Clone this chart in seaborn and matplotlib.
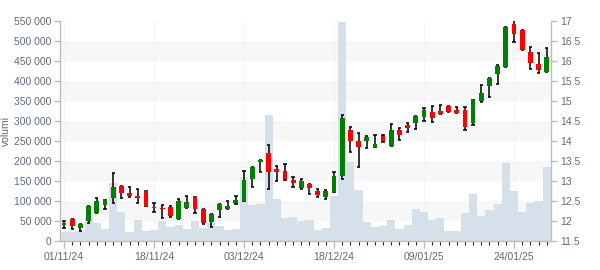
import numpy as np
import pandas as pd
import matplotlib
matplotlib.use("Agg")
import matplotlib.pyplot as plt
from matplotlib.ticker import FuncFormatter, FixedLocator
import seaborn as sns

# ---- data ----
tick_pos = [0, 11, 22, 33, 44, 55]
tick_labels = ["01/11/24", "18/11/24", "03/12/24", "18/12/24", "09/01/25", "24/01/25"]

opens = [11.91, 12.05, 11.83, 12.00, 12.21, 12.40, 12.58, 12.87, 12.71, 12.62,
         12.75, 12.36, 12.33, 12.35, 12.04, 12.33, 12.60, 12.30, 11.98, 12.27,
         12.31, 12.46, 12.51, 13.06, 13.48, 13.70, 13.29, 13.25, 13.02, 12.83,
         12.92, 12.74, 12.61, 12.73, 13.13, 14.28, 14.00, 14.00, 13.86, 14.12,
         13.88, 14.28, 14.40, 14.46, 14.61, 14.72, 14.75, 14.88, 14.78, 14.77,
         14.46, 15.00, 15.38, 15.68, 15.86, 16.92, 16.78, 16.22, 15.92, 15.73]
highs = [12.00, 12.05, 11.92, 12.37, 12.57, 12.52, 13.19, 12.87, 12.84, 12.80,
         12.75, 12.45, 12.40, 12.38, 12.54, 12.63, 12.60, 12.30, 12.18, 12.42,
         12.50, 12.62, 13.25, 13.35, 13.52, 13.90, 13.37, 13.42, 13.11, 13.04,
         12.92, 12.80, 12.78, 13.22, 14.64, 14.34, 14.19, 14.13, 14.15, 14.14,
         14.42, 14.32, 14.45, 14.63, 14.82, 14.88, 14.89, 14.88, 14.84, 14.84,
         15.02, 15.39, 15.58, 15.90, 16.85, 17.02, 16.78, 16.35, 16.20, 16.32]
lows = [11.82, 11.79, 11.76, 11.94, 12.21, 12.29, 12.44, 12.57, 12.61, 12.44,
        12.38, 12.23, 12.07, 12.11, 12.04, 12.33, 12.19, 11.92, 11.86, 12.11,
        12.31, 12.42, 12.51, 12.84, 13.23, 12.79, 13.01, 13.03, 12.86, 12.79,
        12.68, 12.61, 12.54, 12.72, 13.06, 13.72, 13.36, 13.83, 13.86, 13.97,
        13.88, 14.03, 14.22, 14.29, 14.51, 14.48, 14.67, 14.72, 14.71, 14.28,
        14.41, 14.97, 15.11, 15.43, 15.86, 16.48, 16.28, 15.79, 15.71, 15.72]
closes = [11.94, 11.88, 11.92, 12.37, 12.50, 12.52, 12.85, 12.71, 12.62, 12.58,
          12.38, 12.32, 12.30, 12.12, 12.50, 12.47, 12.29, 11.96, 12.18, 12.42,
          12.37, 12.53, 13.02, 13.35, 13.52, 13.23, 13.23, 13.05, 12.96, 13.00,
          12.83, 12.66, 12.75, 13.12, 14.57, 14.00, 13.86, 14.10, 13.93, 14.00,
          14.28, 14.16, 14.33, 14.63, 14.78, 14.58, 14.68, 14.73, 14.71, 14.35,
          15.02, 15.20, 15.58, 15.88, 16.85, 16.68, 16.28, 15.96, 15.78, 16.09]
volumes = [23000, 23000, 24000, 65000, 46000, 30000, 146000, 73000, 23000, 52000,
           25000, 27000, 51000, 36000, 41000, 31000, 51000, 32000, 44000, 37000,
           27000, 29000, 160000, 91000, 93000, 315000, 106000, 58000, 60000, 51000,
           52000, 27500, 33000, 112000, 547000, 198000, 127000, 47000, 36000, 38000,
           52000, 30000, 40000, 80000, 72000, 52000, 57000, 25000, 25000, 70000,
           117000, 62000, 77000, 92000, 195000, 125000, 72000, 95000, 100000, 185000]

df = pd.DataFrame({"i": np.arange(len(opens)), "open": opens, "high": highs,
                   "low": lows, "close": closes, "volume": volumes})

sns.set_theme(style="white")
plt.rcParams["font.family"] = ["Liberation Sans", "DejaVu Sans"]

TXT = "#5f6b7a"
SPINE = "#bdbdbd"

fig = plt.figure(figsize=(6, 2.7), dpi=100)
ax = fig.add_axes([0.1, 0.1074, 0.818, 0.8148])
ax.set_facecolor("white")

# alternating bands
for lo in [50000, 150000, 250000, 350000, 450000]:
    ax.axhspan(lo, lo + 50000, color="#f7f7f7", zorder=0, lw=0)

sns.barplot(data=df, x="i", y="volume", color="#d6e0ea", saturation=1,
            width=1.0, errorbar=None, ax=ax, linewidth=0, edgecolor="none",
            zorder=1)

ax.set_xlim(-0.5, len(opens) - 0.5)
ax.set_ylim(0, 550000)
ax.set_yticks(np.arange(0, 550001, 50000))
ax.yaxis.set_major_formatter(FuncFormatter(lambda v, p: f"{int(v):,}".replace(",", " ")))
ax.xaxis.set_major_locator(FixedLocator(tick_pos))
ax.set_xticklabels(tick_labels)
ax.xaxis.set_minor_locator(FixedLocator(list(range(len(opens)))))
ax.set_xlabel("")
ax.set_ylabel("volumi", color=TXT, fontsize=7.5, labelpad=2)
ax.grid(axis="x", which="major", color="#f3f3f3", lw=0.8)
ax.set_axisbelow(True)

# price axis
ax2 = ax.twinx()
ax2.set_ylim(11.5, 17)
ax2.set_yticks(np.arange(11.5, 17.01, 0.5))
ax2.yaxis.set_major_formatter(FuncFormatter(lambda v, p: f"{v:g}"))

idx = df["i"].values
o = df["open"].values
c = df["close"].values
up = c >= o
colors = np.where(up, "#008000", "#ff0000")
ax2.vlines(idx, df["low"], df["high"], color="black", lw=1.1, zorder=2)
ax2.hlines(df["high"], idx - 0.2, idx + 0.2, color="black", lw=1.1, zorder=2)
ax2.hlines(df["low"], idx - 0.2, idx + 0.2, color="black", lw=1.1, zorder=2)
heights = np.maximum(np.abs(c - o), 0.02)
ax2.bar(idx, heights, bottom=np.minimum(o, c), width=0.58, color=colors,
        lw=0, zorder=3)
ax2.set_xlim(-0.5, len(opens) - 0.5)

for a in (ax, ax2):
    for s in a.spines.values():
        s.set_color(SPINE)
        s.set_linewidth(1.0)
    a.spines["top"].set_visible(False)
    a.tick_params(colors=SPINE, labelcolor=TXT, labelsize=7.5)
ax.spines["right"].set_visible(False)
ax2.spines["left"].set_visible(False)
ax2.spines["bottom"].set_visible(False)
ax.tick_params(axis="y", which="major", left=True, length=4, width=1, pad=2)
ax.tick_params(axis="x", which="major", bottom=True, length=5, width=1, pad=3)
ax.tick_params(axis="x", which="minor", bottom=True, length=3, width=0.8)
ax2.tick_params(axis="y", which="major", right=True, length=4, width=1, pad=3)
ax2.grid(False)

fig.savefig("out.png", dpi=100)
